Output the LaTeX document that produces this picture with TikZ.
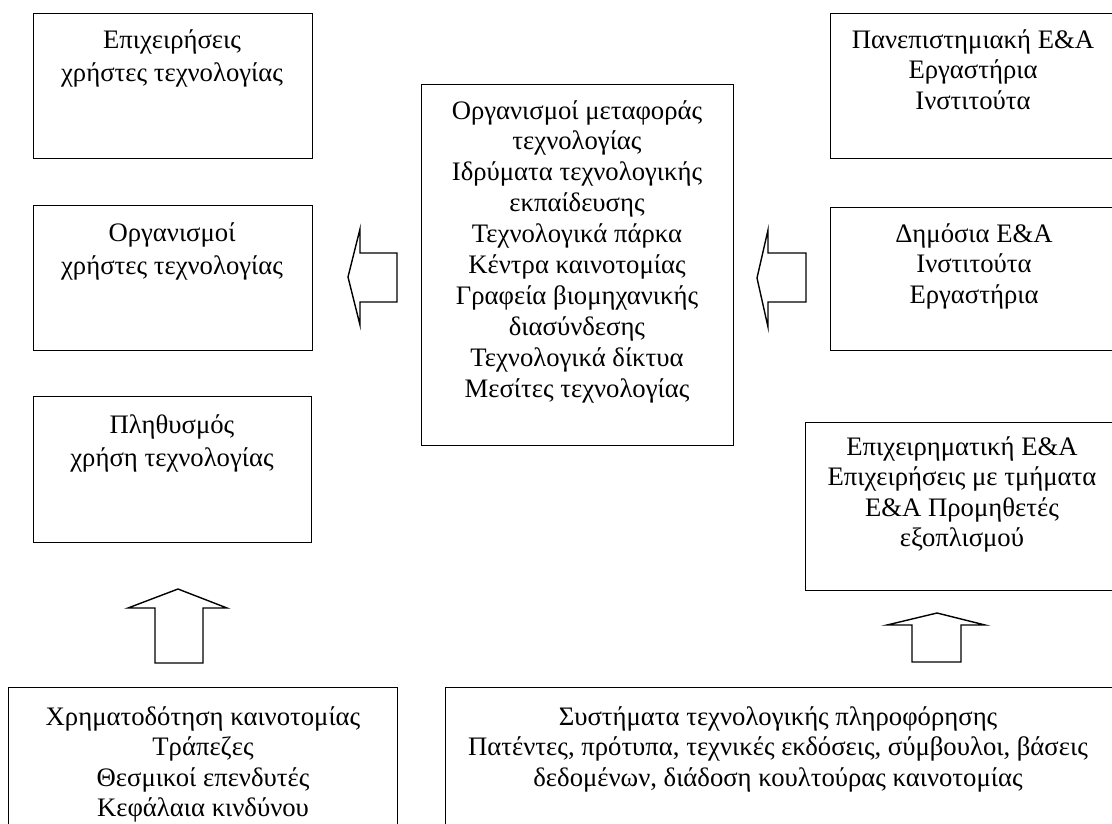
\documentclass[tikz,border=0pt]{standalone}
\usepackage{fontspec}
\setmainfont{Liberation Serif}
\newcommand{\mltext}[1]{\begin{tabular}[t]{@{}c@{}}#1\end{tabular}}
\begin{document}
\begin{tikzpicture}[x=1pt,y=-1pt,
  box/.style={draw, line width=1.4pt, inner sep=0pt, anchor=north west},
  lbl/.style={anchor=base, inner sep=0pt, font=\fontsize{26.7}{30.5}\selectfont},
  lblL/.style={anchor=base, inner sep=0pt, font=\fontsize{26.7}{33}\selectfont},
  lblM/.style={anchor=base, inner sep=0pt, font=\fontsize{26.7}{30.9}\selectfont},
  blockarrow/.style={draw, line width=1.4pt, line join=miter}]
\useasboundingbox (0,0) rectangle (1112,823);
\clip (0,0) rectangle (1112,823);
% boxes
\node[box, minimum width=279pt, minimum height=145pt] (a) at (33,13) {};
\node[box, minimum width=279pt, minimum height=145pt] (b) at (33,205) {};
\node[box, minimum width=278pt, minimum height=146pt] (c) at (33,396) {};
\node[box, minimum width=312pt, minimum height=361pt] (m) at (421,84) {};
\node[box, minimum width=300pt, minimum height=145pt] (r1) at (830,13) {};
\node[box, minimum width=300pt, minimum height=143pt] (r2) at (830,207) {};
\node[box, minimum width=320pt, minimum height=168pt] (r3) at (805,422) {};
\node[box, minimum width=389pt, minimum height=200pt] (bl) at (8,687) {};
\node[box, minimum width=700pt, minimum height=200pt] (br) at (445,687) {};
% texts
\node[lblL] (ta) at (172,48) {\mltext{Επιχειρήσεις\\χρήστες τεχνολογίας}};
\node[lblL] (tb) at (172,241) {\mltext{Οργανισμοί\\χρήστες τεχνολογίας}};
\node[lblL] (tc) at (172,433) {\mltext{Πληθυσμός\\χρήση τεχνολογίας}};
\node[lblM] (tm) at (577,119) {\mltext{Οργανισμοί μεταφοράς\\τεχνολογίας\\Ιδρύματα τεχνολογικής\\εκπαίδευσης\\Τεχνολογικά πάρκα\\Κέντρα καινοτομίας\\Γραφεία βιομηχανικής\\διασύνδεσης\\Τεχνολογικά δίκτυα\\Μεσίτες τεχνολογίας}};
\node[lbl] (tr1) at (973,48) {\mltext{Πανεπιστημιακή Ε\&Α\\Εργαστήρια\\Ινστιτούτα}};
\node[lbl] (tr2) at (974,242) {\mltext{Δημόσια Ε\&Α\\Ινστιτούτα\\Εργαστήρια}};
\node[lbl] (tr3) at (962,455) {\mltext{Επιχειρηματική Ε\&Α\\Επιχειρήσεις με τμήματα\\Ε\&Α Προμηθετές\\εξοπλισμού}};
\node[lbl] (tbl) at (203,725) {\mltext{Χρηματοδότηση καινοτομίας\\Τράπεζες\\Θεσμικοί επενδυτές\\Κεφάλαια κινδύνου}};
\node[lbl] (tbr) at (778,725) {\mltext{Συστήματα τεχνολογικής πληροφόρησης\\Πατέντες, πρότυπα, τεχνικές εκδόσεις, σύμβουλοι, βάσεις\\δεδομένων, διάδοση κουλτούρας καινοτομίας}};
% block arrows
\draw[blockarrow] (397,253) -- (360,253) -- (360,229) -- (348,277) -- (360,325) -- (360,302) -- (397,302) -- cycle;
\draw[blockarrow] (806,253) -- (768,253) -- (768,230) -- (757,278) -- (768,327) -- (768,302) -- (806,302) -- cycle;
\draw[blockarrow] (155,663) -- (155,608) -- (128,608) -- (178,589) -- (227,608) -- (203,608) -- (203,663) -- cycle;
\draw[blockarrow] (912,662) -- (912,625) -- (887,625) -- (937,613) -- (985,625) -- (961,625) -- (961,662) -- cycle;
\end{tikzpicture}
\end{document}
